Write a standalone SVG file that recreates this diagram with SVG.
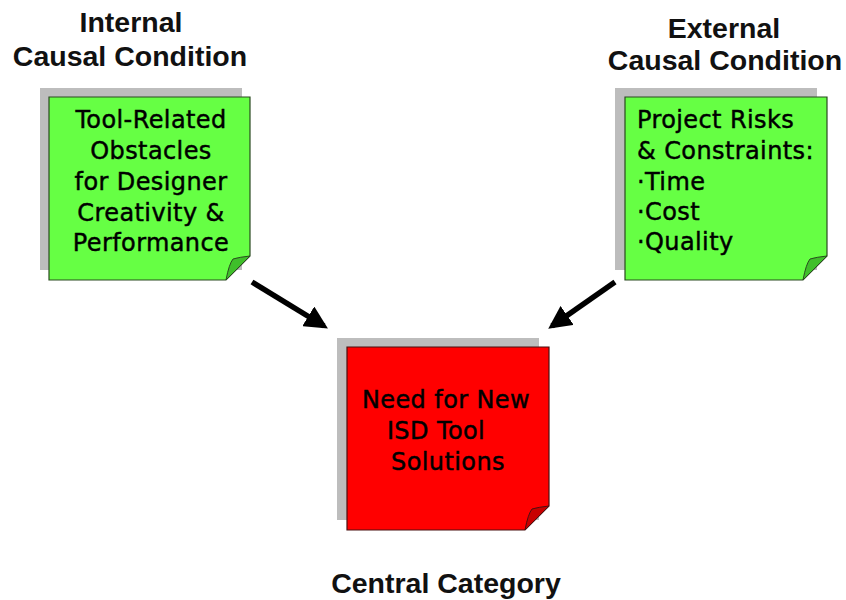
<svg xmlns="http://www.w3.org/2000/svg" width="846" height="600" viewBox="0 0 846 600">
  <defs>
    <marker id="arrowhead" viewBox="0 0 10 10" refX="8" refY="5" markerWidth="4.2" markerHeight="4.2" orient="auto" markerUnits="strokeWidth">
      <path d="M0,0 L10,5 L0,10 Z" fill="#000"/>
    </marker>
  </defs>
  <style>
    .heading { font-family: "Liberation Sans", Arial, sans-serif; font-weight: bold; font-size: 28.5px; fill: #111; text-anchor: middle; }
    .note { font-family: "DejaVu Sans", Verdana, sans-serif; font-size: 24px; fill: #000; stroke: #000; stroke-width: 0.45; letter-spacing: 0.4px; }
    .shadow { fill: #bdbdbd; }
    .green { fill: #66ff44; stroke: #2a4a20; stroke-width: 1.2; }
    .green-fold { fill: #3fbf2a; stroke: #2a4a20; stroke-width: 1; }
    .red { fill: #ff0000; stroke: #4a1010; stroke-width: 1.2; }
    .red-fold { fill: #c80000; stroke: #4a1010; stroke-width: 1; }
    .arrow { stroke: #000; stroke-width: 5.5; fill: none; marker-end: url(#arrowhead); }
  </style>
  <rect width="846" height="600" fill="#fff"/>

  <!-- column headings -->
  <g id="label-internal">
    <text class="heading" x="131" y="32">Internal</text>
    <text class="heading" x="130" y="66">Causal Condition</text>
  </g>
  <g id="label-external">
    <text class="heading" x="724" y="38">External</text>
    <text class="heading" x="725" y="70">Causal Condition</text>
  </g>
  <g id="label-central">
    <text class="heading" x="446" y="593">Central Category</text>
  </g>

  <!-- internal condition note -->
  <g id="node-internal">
    <rect class="shadow" x="40" y="88" width="202" height="182"/>
    <path class="green" d="M49,97 H250 V256 L226,280 H49 Z"/>
    <path class="green-fold" d="M226,280 Q229,264 233,259 Q240,257 250,256 Z"/>
    <g class="note" text-anchor="middle">
      <text x="151" y="128">Tool-Related</text>
      <text x="151" y="159">Obstacles</text>
      <text x="151" y="190">for Designer</text>
      <text x="151" y="221">Creativity &amp;</text>
      <text x="151" y="251">Performance</text>
    </g>
  </g>

  <!-- external condition note -->
  <g id="node-external">
    <rect class="shadow" x="615" y="88" width="202" height="182"/>
    <path class="green" d="M625,97 H827 V256 L803,280 H625 Z"/>
    <path class="green-fold" d="M803,280 Q806,264 810,259 Q817,257 827,256 Z"/>
    <g class="note">
      <text x="637" y="128">Project Risks</text>
      <text x="637" y="159">&amp; Constraints:</text>
      <text x="637" y="190">·Time</text>
      <text x="637" y="220">·Cost</text>
      <text x="637" y="250">·Quality</text>
    </g>
  </g>

  <!-- central category note -->
  <g id="node-central">
    <rect class="shadow" x="337" y="338" width="202" height="182"/>
    <path class="red" d="M347,347 H549 V506 L525,530 H347 Z"/>
    <path class="red-fold" d="M525,530 Q528,514 532,509 Q539,507 549,506 Z"/>
    <g class="note" text-anchor="middle">
      <text x="446" y="408">Need for New</text>
      <text x="436" y="439">ISD Tool</text>
      <text x="448" y="470">Solutions</text>
    </g>
  </g>

  <!-- connectors -->
  <g id="connectors">
    <line class="arrow" x1="252" y1="282" x2="324" y2="326"/>
    <line class="arrow" x1="615" y1="282" x2="552" y2="326"/>
  </g>
</svg>
